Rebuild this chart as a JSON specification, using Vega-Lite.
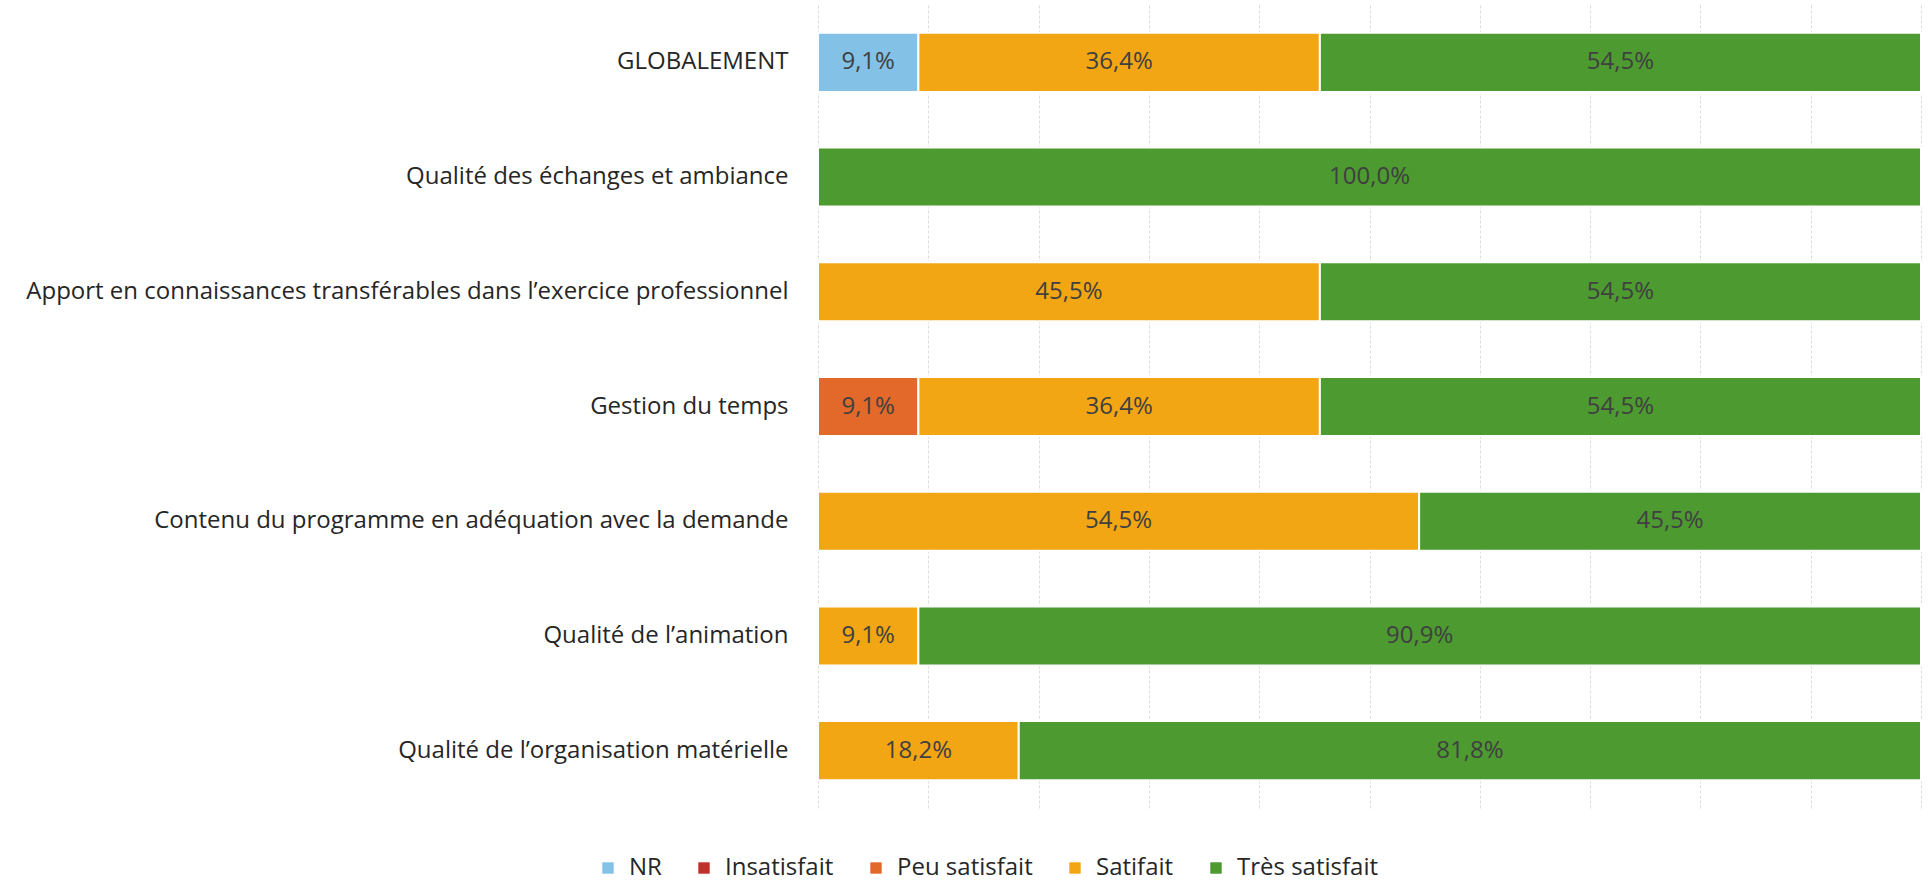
{
  "$schema": "https://vega.github.io/schema/vega-lite/v6.json",
  "width": 1103,
  "height": 803,
  "autosize": "none",
  "padding": {"left": 818, "top": 5, "right": 7, "bottom": 78},
  "background": "white",
  "config": {
    "locale": {"number": {"decimal": ",", "thousands": " ", "grouping": [3], "currency": ["", " €"]}},
    "view": {"stroke": null},
    "font": "Open Sans",
    "axisX": {"title": null, "labels": false, "ticks": false, "domain": false, "grid": true, "gridColor": "#dcdcdc", "gridDash": [3, 2], "gridWidth": 1}
  },
  "data": {
    "values": [
      {"q": "GLOBALEMENT", "cat": "NR", "v": 0.091},
      {"q": "GLOBALEMENT", "cat": "Satifait", "v": 0.364},
      {"q": "GLOBALEMENT", "cat": "Très satisfait", "v": 0.545},
      {"q": "Qualité des échanges et ambiance", "cat": "Très satisfait", "v": 1.0},
      {"q": "Apport en connaissances transférables dans l’exercice professionnel", "cat": "Satifait", "v": 0.455},
      {"q": "Apport en connaissances transférables dans l’exercice professionnel", "cat": "Très satisfait", "v": 0.545},
      {"q": "Gestion du temps", "cat": "Peu satisfait", "v": 0.091},
      {"q": "Gestion du temps", "cat": "Satifait", "v": 0.364},
      {"q": "Gestion du temps", "cat": "Très satisfait", "v": 0.545},
      {"q": "Contenu du programme en adéquation avec la demande", "cat": "Satifait", "v": 0.545},
      {"q": "Contenu du programme en adéquation avec la demande", "cat": "Très satisfait", "v": 0.455},
      {"q": "Qualité de l’animation", "cat": "Satifait", "v": 0.091},
      {"q": "Qualité de l’animation", "cat": "Très satisfait", "v": 0.909},
      {"q": "Qualité de l’organisation matérielle", "cat": "Satifait", "v": 0.182},
      {"q": "Qualité de l’organisation matérielle", "cat": "Très satisfait", "v": 0.818}
    ]
  },
  "transform": [
    {"calculate": "indexof(['NR','Insatisfait','Peu satisfait','Satifait','Très satisfait'], datum.cat)", "as": "ord"},
    {"stack": "v", "groupby": ["q"], "sort": [{"field": "ord", "order": "ascending"}], "as": ["x0", "x1"]},
    {"calculate": "(datum.x0 + datum.x1) / 2", "as": "mid"}
  ],
  "encoding": {
    "y": {
      "field": "q",
      "type": "nominal",
      "sort": ["GLOBALEMENT", "Qualité des échanges et ambiance", "Apport en connaissances transférables dans l’exercice professionnel", "Gestion du temps", "Contenu du programme en adéquation avec la demande", "Qualité de l’animation", "Qualité de l’organisation matérielle"],
      "scale": {"paddingInner": 0.485, "paddingOuter": 0.2425},
      "axis": {"title": null, "ticks": false, "domain": false, "labelFontSize": 24, "labelColor": "#262626", "labelPadding": 30, "labelLimit": 900, "labelFont": "Open Sans"}
    }
  },
  "layer": [
    {
      "mark": {"type": "bar", "stroke": "white", "strokeWidth": 2},
      "encoding": {
        "x": {
          "field": "x0", "type": "quantitative",
          "scale": {"domain": [0, 1], "nice": false},
          "axis": {"values": [0, 0.1, 0.2, 0.3, 0.4, 0.5, 0.6, 0.7, 0.8, 0.9, 1]}
        },
        "x2": {"field": "x1"},
        "color": {
          "field": "cat", "type": "nominal",
          "scale": {
            "domain": ["NR", "Insatisfait", "Peu satisfait", "Satifait", "Très satisfait"],
            "range": ["#84C1E6", "#C0302A", "#E2692A", "#F2A614", "#4C9A30"]
          },
          "legend": {
            "title": null,
            "orient": "none",
            "direction": "horizontal",
            "columns": 5,
            "legendX": -222,
            "legendY": 851,
            "padding": 0,
            "symbolType": "square",
            "symbolSize": 130,
            "symbolStrokeWidth": 0,
            "labelFontSize": 24,
            "labelColor": "#262626",
            "labelFont": "Open Sans",
            "columnPadding": 30,
            "labelOffset": 9
          }
        }
      }
    },
    {
      "mark": {"type": "text", "fontSize": 24, "color": "#404040", "font": "Open Sans"},
      "encoding": {
        "x": {"field": "mid", "type": "quantitative", "axis": {"values": [0, 0.1, 0.2, 0.3, 0.4, 0.5, 0.6, 0.7, 0.8, 0.9, 1]}},
        "text": {"field": "v", "type": "quantitative", "format": ".1%"}
      }
    }
  ]
}
